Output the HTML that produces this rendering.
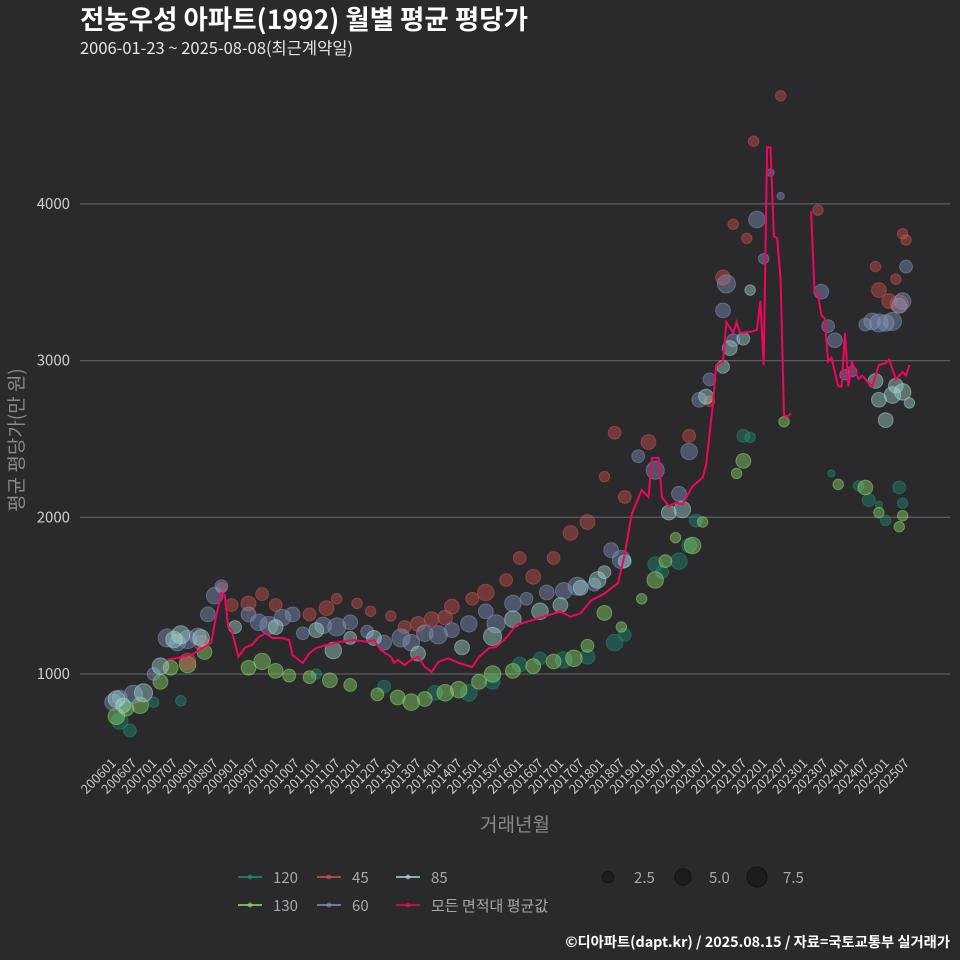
<!DOCTYPE html>
<html><head><meta charset="utf-8">
<style>
html,body{margin:0;padding:0;background:#2a292b;}
svg{display:block;font-family:"Noto Sans CJK KR","Liberation Sans",sans-serif;}
</style></head>
<body>
<svg id="chart" width="960" height="960" viewBox="0 0 960 960">
<rect width="960" height="960" fill="#2a292b"/>
<text x="80" y="29" fill="#ffffff" font-size="26.5" font-weight="bold">전농우성 아파트(1992) 월별 평균 평당가</text>
<text x="80" y="54" fill="#e6e6e6" font-size="16.5">2006-01-23 ~ 2025-08-08(최근계약일)</text>
<g id="grid"></g>
<g id="yticks"></g>
<g id="xticks"></g>
<g id="bubbles"></g>
<g id="lineg"></g>
<text x="515" y="831" fill="#8a8a8a" font-size="19" text-anchor="middle">거래년월</text>
<text transform="translate(23,440) rotate(-90)" fill="#8a8a8a" font-size="19" text-anchor="middle">평균 평당가(만 원)</text>
<g id="legend"></g>
<text x="950" y="947" fill="#ffffff" font-size="14.3" font-weight="bold" text-anchor="end">©디아파트(dapt.kr) / 2025.08.15 / 자료=국토교통부 실거래가</text>
</svg>
<script>
const yTicks=[1000,2000,3000,4000];
const xTickLabels=[];
for(let y=2006;y<=2025;y++){xTickLabels.push(y+"01");xTickLabels.push(y+"07");}
// mean line: month index (0 = 2006-01) and value; null marks a gap
const lineMonths=[16,23,29,30,32,33,34,35,37,39,41,43,45,47,50,52,53,56,58,60,63,67,71,75,77,79,82,83,84,86,88,90,92,94,96,99,102,106,108,111,113,116,119,132,135,138,141,145,149,151,153,156,158,159,161,162,164,166,168,171,174,175,177,178,180,181,183,184,185,188,190,191,192,193,194,195,196,197,198,199,200,203,206,207,208,209,210,211,212,214,215,216,217,218,220,221,224,226,228,229,231,233,234,235];
const lineValues=[1090,1120,1200,1325,1517,1505,1300,1280,1110,1170,1185,1236,1260,1230,1230,1217,1120,1070,1134,1166,1185,1205,1217,1205,1217,1153,1110,1070,1090,1057,1090,1110,1045,1013,1077,1100,1070,1045,1110,1166,1172,1230,1313,1399,1365,1388,1468,1513,1581,1764,2015,2174,2129,2379,2379,2129,2071,2094,2083,2197,2254,2334,2721,2972,2995,3246,3177,3246,3177,3183,3195,3382,2972,4362,4362,3793,3780,3519,2653,2641,2665,null,3952,3439,3428,3291,3268,2995,3018,2835,2835,3177,2835,2995,2881,2904,2835,2972,2984,3007,2881,2927,2904,2972];
// bubble series: month index, value, count
const s60M=[0,2,6,12,16,19,22,25,28,30,32,40,43,46,50,53,56,62,66,70,75,80,85,88,92,96,100,105,110,113,118,122,128,133,137,142,147,150,155,160,167,170,173,176,180,181,183,190,192,194,197,209,211,213,216,218,222,224,226,228,230,232,234,233];
const s60V=[820,850,870,1000,1230,1200,1220,1240,1380,1500,1560,1380,1330,1310,1360,1380,1260,1310,1300,1330,1270,1200,1230,1200,1260,1250,1280,1320,1400,1320,1450,1480,1520,1530,1560,1570,1790,1730,2390,2300,2150,2420,2750,2880,3320,3490,3130,3900,3650,4200,4050,3440,3220,3130,2910,2930,3230,3250,3240,3240,3250,3350,3600,3380];
const s60S=[5,4,6,3,6,5,6,5,4,5,3,4,5,6,5,4,3,5,6,4,3,4,6,5,5,6,4,5,4,6,5,3,4,5,6,3,4,6,3,6,4,5,4,3,4,6,3,5,2,1,1,4,3,4,2,2,3,5,6,5,6,4,3,5];
const s45M=[22,26,32,35,40,44,48,58,63,66,72,76,82,86,90,94,98,100,106,110,116,120,124,130,135,140,145,148,151,158,170,176,180,183,187,189,197,208,226,229,232,231,233,234,225];
const s45V=[1080,1200,1550,1440,1450,1510,1440,1380,1420,1480,1450,1400,1370,1300,1320,1350,1360,1430,1480,1520,1600,1740,1620,1740,1900,1970,2260,2540,2130,2480,2520,2740,3530,3870,3780,4400,4690,3960,3450,3380,3360,3520,3810,3770,3600];
const s45S=[5,4,2,3,4,3,3,3,4,2,2,2,2,3,4,4,4,4,3,5,3,3,4,3,4,4,2,3,3,4,3,2,4,2,2,2,2,2,4,4,6,2,2,2,2];
const s85M=[1,3,9,14,18,20,26,36,48,60,65,70,77,90,103,112,118,126,132,138,143,145,151,164,168,175,180,182,186,188,230,226,228,231,233,235,225];
const s85V=[840,800,880,1050,1220,1250,1230,1300,1300,1280,1150,1230,1230,1130,1170,1240,1350,1400,1440,1550,1600,1650,1720,2030,2050,2770,2960,3080,3140,3450,2780,2750,2620,2840,2800,2730,2870];
const s85S=[5,4,6,5,5,6,5,3,4,4,5,3,4,4,4,6,5,5,4,4,5,3,3,4,5,4,3,4,3,2,5,4,4,4,5,2,4];
const s120M=[2,5,12,20,60,80,95,105,112,120,126,133,140,148,151,160,162,167,170,172,186,188,212,220,223,228,232,233,226];
const s120V=[700,640,820,830,1000,920,880,880,950,1060,1100,1090,1110,1200,1250,1700,1650,1720,1820,1980,2520,2510,2280,2200,2110,1980,2190,2090,2080];
const s120S=[5,3,2,2,2,3,4,5,4,4,3,5,4,5,3,4,3,5,4,3,3,2,1,2,3,2,3,2,1];
const s130M=[1,4,8,14,17,22,27,40,44,48,52,58,64,70,78,84,88,92,98,102,108,112,118,124,130,136,140,145,150,156,160,163,166,171,174,184,186,198,214,222,226,232,233];
const s130V=[730,780,800,950,1040,1060,1140,1040,1080,1020,990,980,960,930,870,850,820,840,880,900,950,1000,1020,1050,1080,1100,1180,1390,1300,1480,1600,1720,1870,1820,1970,2280,2360,2610,2210,2190,2030,1940,2010];
const s130S=[5,4,5,4,4,5,4,4,5,4,3,3,4,3,3,4,5,4,5,5,4,5,4,4,4,5,3,4,2,2,5,3,2,5,2,2,4,2,2,4,2,2,2];

const NS="http://www.w3.org/2000/svg";
function xS(m){return 113+m*3.389;}
function yS(v){return 674-(v-1000)*0.1567;}
function rS(s){return 3.7*Math.sqrt(s);}
function mk(tag,attrs,parent){const e=document.createElementNS(NS,tag);for(const k in attrs)e.setAttribute(k,attrs[k]);parent.appendChild(e);return e;}

const grid=document.getElementById('grid'),yt=document.getElementById('yticks'),xt=document.getElementById('xticks');
yTicks.forEach(v=>{
  const l=mk('line',{x1:80,x2:950,y1:yS(v),y2:yS(v),stroke:'#5c5b5d','stroke-width':1.3},grid);
  
  
  const t=mk('text',{x:70,y:yS(v)+5,fill:'#cfcfcf','font-size':15,'text-anchor':'end'},yt);
  t.textContent=v;
  
  
});
xTickLabels.forEach((lab,i)=>{
  const x=xS(i*6);
  const t=mk('text',{transform:`translate(${x+4},${764}) rotate(-45)`,fill:'#c8c8c8','font-size':13,'text-anchor':'end'},xt);
  t.textContent=lab;
  
  
});

const bg=document.getElementById('bubbles');
const series=[
 ['120',s120M,s120V,s120S,'#1f8f7a'],
 ['130',s130M,s130V,s130S,'#8ee06c'],
 ['45',s45M,s45V,s45S,'#d2544e'],
 ['60',s60M,s60V,s60S,'#8296bf'],
 ['85',s85M,s85V,s85S,'#a3dcd4']
];
series.forEach(([name,M,V,S,col])=>{
  M.forEach((m,i)=>{
    const c=mk('circle',{cx:xS(m),cy:yS(V[i]),r:rS(S[i]),fill:col,'fill-opacity':0.42,stroke:col,'stroke-opacity':0.5},bg);
    
    
  });
});

const lg=document.getElementById('lineg');
let d='',pen=false;
lineMonths.forEach((m,i)=>{
  const v=lineValues[i];
  if(v===null){pen=false;return;}
  d+=(pen?'L':'M')+xS(m).toFixed(1)+','+yS(v).toFixed(1);
  pen=true;
});
const p=mk('path',{d:d,fill:'none',stroke:'#f0065e','stroke-width':2},lg);



const leg=document.getElementById('legend');
const items=[['120','#1f8f7a',238,877],['45','#d2544e',317,877],['85','#a3dcd4',396,877],['130','#8ee06c',238,905],['60','#8296bf',317,905],['모든 면적대 평균값','#f0065e',396,905]];
items.forEach(([lab,col,x,y])=>{
  const g=mk('g',{},leg);
  
  
  mk('line',{x1:x,x2:x+24,y1:y,y2:y,stroke:col,'stroke-width':1.6},g);
  mk('circle',{cx:x+12,cy:y,r:2.5,fill:col,'fill-opacity':0.6},g);
  const t=mk('text',{x:x+35,y:y+6,fill:'#a8a8a8','font-size':15},g);
  t.textContent=lab;
});
[[2.5,608],[5.0,683],[7.5,757]].forEach(([s,x])=>{
  const g=mk('g',{},leg);
  
  
  mk('circle',{cx:x,cy:877,r:rS(s),fill:'#1c1b1d','stroke':'#151416'},g);
  const t=mk('text',{x:x+26,y:883,fill:'#a8a8a8','font-size':15},g);
  t.textContent=s.toFixed(1);
});
</script>
</body></html>
